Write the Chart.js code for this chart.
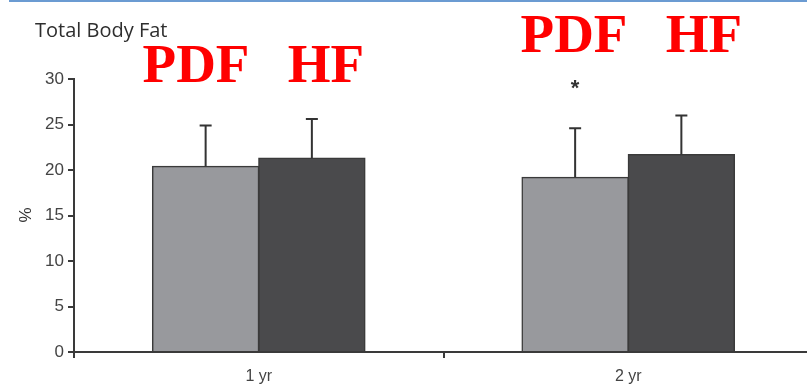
<!DOCTYPE html>
<html lang="en">
<head>
<meta charset="UTF-8">
<title>Total Body Fat</title>
<script src="https://cdn.jsdelivr.net/npm/chart.js"></script>
<style>
  html, body { margin: 0; padding: 0; background: #fff; overflow: hidden; }
  .top-rule { position: absolute; left: 9px; right: 0; top: 0; height: 2px; background: #6b9bd2; }
  .wrap { position: absolute; left: 0; top: 0; width: 813px; height: 387px; }
</style>
</head>
<body>
<div class="wrap"><canvas id="fat-chart" width="813" height="387"></canvas></div>
<div class="top-rule"></div>
<script>
// categories and series
const periods = ['1 yr', '2 yr'];
const pdfMean = [20.4, 19.2];
const hfMean  = [21.3, 21.7];
// upper end of the SD whiskers
const pdfUpper = [24.9, 24.6];
const hfUpper  = [25.6, 26.0];
// significance marker above PDF bars (null = none)
const pdfStar = [null, 29.4];
const yTicks = [0, 5, 10, 15, 20, 25, 30];

const inkColor = '#3a3a3a';

// whiskers, star and overlay text
const overlay = {
  id: 'overlay',
  afterDatasetsDraw(chart) {
    const ctx = chart.ctx;
    const y = chart.scales.y;
    const uppers = [pdfUpper, hfUpper];
    ctx.save();
    ctx.strokeStyle = '#333';
    ctx.lineWidth = 2;
    uppers.forEach((arr, di) => {
      const meta = chart.getDatasetMeta(di);
      meta.data.forEach((bar, i) => {
        const top = y.getPixelForValue(arr[i]);
        ctx.beginPath();
        ctx.moveTo(bar.x, bar.y);
        ctx.lineTo(bar.x, top);
        ctx.moveTo(bar.x - 6, top);
        ctx.lineTo(bar.x + 6, top);
        ctx.stroke();
      });
    });
    // asterisk
    const pdfMeta = chart.getDatasetMeta(0);
    ctx.fillStyle = '#333';
    ctx.font = 'bold 22px "Liberation Sans", Arial, sans-serif';
    ctx.textAlign = 'center';
    ctx.textBaseline = 'middle';
    pdfStar.forEach((v, i) => {
      if (v == null) return;
      ctx.fillText('*', pdfMeta.data[i].x, y.getPixelForValue(v) + 4);
    });

    // title
    ctx.fillStyle = '#2e2e2e';
    ctx.font = '20px "Open Sans", sans-serif';
    ctx.textAlign = 'left';
    ctx.textBaseline = 'alphabetic';
    ctx.fillText('Total Body Fat', 35, 37);

    // y axis title
    ctx.save();
    ctx.translate(26, 215);
    ctx.rotate(-Math.PI / 2);
    ctx.font = '17px "Liberation Sans", Arial, sans-serif';
    ctx.textAlign = 'center';
    ctx.textBaseline = 'middle';
    ctx.fillStyle = '#333';
    ctx.fillText('%', 0, 0);
    ctx.restore();

    // group labels
    ctx.fillStyle = '#ff0000';
    ctx.font = 'bold 55px "Liberation Serif", "Times New Roman", serif';
    ctx.textAlign = 'center';
    ctx.fillText('PDF', 196, 82);
    ctx.fillText('HF', 326, 82);
    ctx.fillText('PDF', 574, 52);
    ctx.fillText('HF', 704, 52);
    ctx.restore();
  }
};

new Chart(document.getElementById('fat-chart'), {
  type: 'bar',
  data: {
    labels: periods,
    datasets: [
      { label: 'PDF', data: pdfMean, backgroundColor: '#98999d', borderColor: inkColor, borderWidth: 1.5, inflateAmount: 0.6 },
      { label: 'HF',  data: hfMean,  backgroundColor: '#4a4a4c', borderColor: inkColor, borderWidth: 1.5, inflateAmount: 0.6 }
    ]
  },
  options: {
    responsive: false,
    animation: false,
    layout: { padding: { top: 79, right: 0, bottom: 0, left: 0 } },
    categoryPercentage: 0.575,
    barPercentage: 1.0,
    plugins: { legend: { display: false }, tooltip: { enabled: false } },
    scales: {
      x: {
        afterFit(scale) { scale.height = 35; },
        grid: { offset: true, drawOnChartArea: false, drawTicks: true, tickLength: 6, color: inkColor, lineWidth: 2 },
        border: { color: inkColor, width: 2 },
        ticks: { color: '#444', font: { family: '"Liberation Sans", Arial, sans-serif', size: 16 }, padding: 9 }
      },
      y: {
        min: 0,
        max: 30,
        afterFit(scale) { scale.width = 74; },
        afterBuildTicks(scale) { scale.ticks = yTicks.map(v => ({ value: v })); },
        grid: { drawOnChartArea: false, drawTicks: true, tickLength: 6, color: inkColor, lineWidth: 2 },
        border: { color: inkColor, width: 2 },
        ticks: { color: '#444', font: { family: '"Liberation Sans", Arial, sans-serif', size: 17 }, padding: 4 }
      }
    }
  },
  plugins: [overlay]
});
</script>
</body>
</html>
